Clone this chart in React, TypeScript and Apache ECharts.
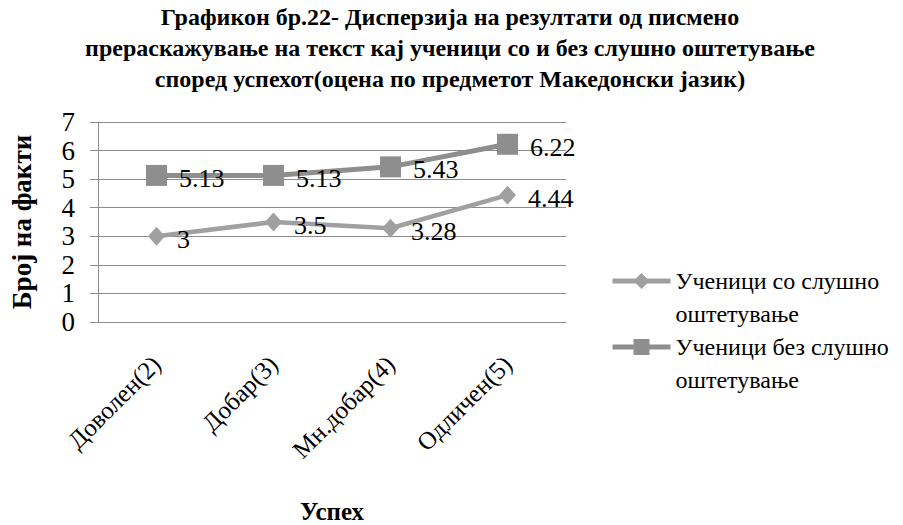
import React, { useEffect, useRef } from "react";
import * as echarts from "echarts";

const titleLines = [
  "Графикон бр.22- Дисперзија на резултати од писмено",
  "прераскажување на текст кај ученици со и без слушно оштетување",
  "според успехот(оцена по предметот Македонски јазик)",
];
const categories = ["Доволен(2)", "Добар(3)", "Мн.добар(4)", "Одличен(5)"];
const seriesNames = ["Ученици со слушно оштетување", "Ученици без слушно оштетување"];
const withImpairment = [3, 3.5, 3.28, 4.44];
const withoutImpairment = [5.13, 5.13, 5.43, 6.22];
const yTicks = { min: 0, max: 7, interval: 1 };
const yAxisTitle = "Број на факти";
const xAxisTitle = "Успех";

const SERIF = "Liberation Serif";
const LEGEND_LINE = 33;

export default function App() {
  const ref = useRef<HTMLDivElement>(null);

  useEffect(() => {
    if (!ref.current) return;
    const chart = echarts.init(ref.current, null, { renderer: "svg" });

    // Legend entries wrap after the third word; a leading blank line keeps
    // the symbol level with the first text line.
    const legendText = (name: string) => {
      const words = name.split(" ");
      return "\n" + words.slice(0, 3).join(" ") + "\n" + words.slice(3).join(" ");
    };

    const labelStyle = {
      show: true,
      position: "right" as const,
      distance: 12,
      offset: [0, 3],
      fontFamily: SERIF,
      fontSize: 26,
      color: "#000",
    };

    // Symbol centres of the two legend entries
    const legendRows = [276, 342];

    chart.setOption({
      animation: false,
      backgroundColor: "#fff",
      textStyle: { fontFamily: SERIF },
      graphic: [
        {
          type: "text",
          x: 450,
          y: 1,
          style: {
            text: titleLines.join("\n"),
            textAlign: "center",
            fontFamily: SERIF,
            fontWeight: "bold",
            fontSize: 24,
            lineHeight: 31,
            fill: "#000",
          },
        },
      ],
      grid: { left: 91, right: 337, top: 122, bottom: 191 },
      legend: seriesNames.map((n, i) => ({
        data: [n],
        orient: "vertical",
        left: 605,
        top: legendRows[i] - (3 * LEGEND_LINE) / 2,
        itemWidth: 58,
        itemHeight: 20,
        lineStyle: { width: 5 },
        formatter: legendText,
        textStyle: {
          fontFamily: SERIF,
          fontSize: 24,
          color: "#000",
          lineHeight: LEGEND_LINE,
        },
      })),
      xAxis: {
        type: "category",
        data: categories,
        boundaryGap: true,
        name: xAxisTitle,
        nameLocation: "middle",
        nameGap: 177,
        nameTextStyle: { fontFamily: SERIF, fontWeight: "bold", fontSize: 25, color: "#000" },
        axisLine: { lineStyle: { color: "#8c8c8c", width: 1 } },
        axisTick: { show: false },
        axisLabel: {
          rotate: 45,
          margin: 38,
          fontFamily: SERIF,
          fontSize: 25,
          color: "#000",
          interval: 0,
        },
      },
      yAxis: {
        type: "value",
        min: yTicks.min,
        max: yTicks.max,
        interval: yTicks.interval,
        name: yAxisTitle,
        nameLocation: "middle",
        nameGap: 63,
        nameRotate: 90,
        nameTextStyle: { fontFamily: SERIF, fontWeight: "bold", fontSize: 27, color: "#000" },
        axisLine: { show: true, lineStyle: { color: "#8c8c8c", width: 1 } },
        axisTick: { show: true, length: 8, lineStyle: { color: "#8c8c8c" } },
        axisLabel: { margin: 23, fontFamily: SERIF, fontSize: 27, color: "#000" },
        splitLine: { lineStyle: { color: "#8c8c8c", width: 1.2 } },
      },
      series: [
        {
          name: seriesNames[0],
          type: "line",
          data: withImpairment,
          symbol: "diamond",
          symbolSize: [17, 19],
          color: "#a0a0a0",
          lineStyle: { width: 4.5, color: "#a0a0a0" },
          itemStyle: { color: "#a0a0a0" },
          label: labelStyle,
          z: 3,
        },
        {
          name: seriesNames[1],
          type: "line",
          data: withoutImpairment,
          symbol: "rect",
          symbolSize: 21,
          color: "#8e8e8e",
          lineStyle: { width: 5, color: "#8e8e8e" },
          itemStyle: { color: "#8e8e8e" },
          label: labelStyle,
          z: 4,
        },
      ],
    });

    return () => chart.dispose();
  }, []);

  return (
    <div
      ref={ref}
      style={{ position: "fixed", left: 0, top: 0, width: 903, height: 525, background: "#fff" }}
    />
  );
}
